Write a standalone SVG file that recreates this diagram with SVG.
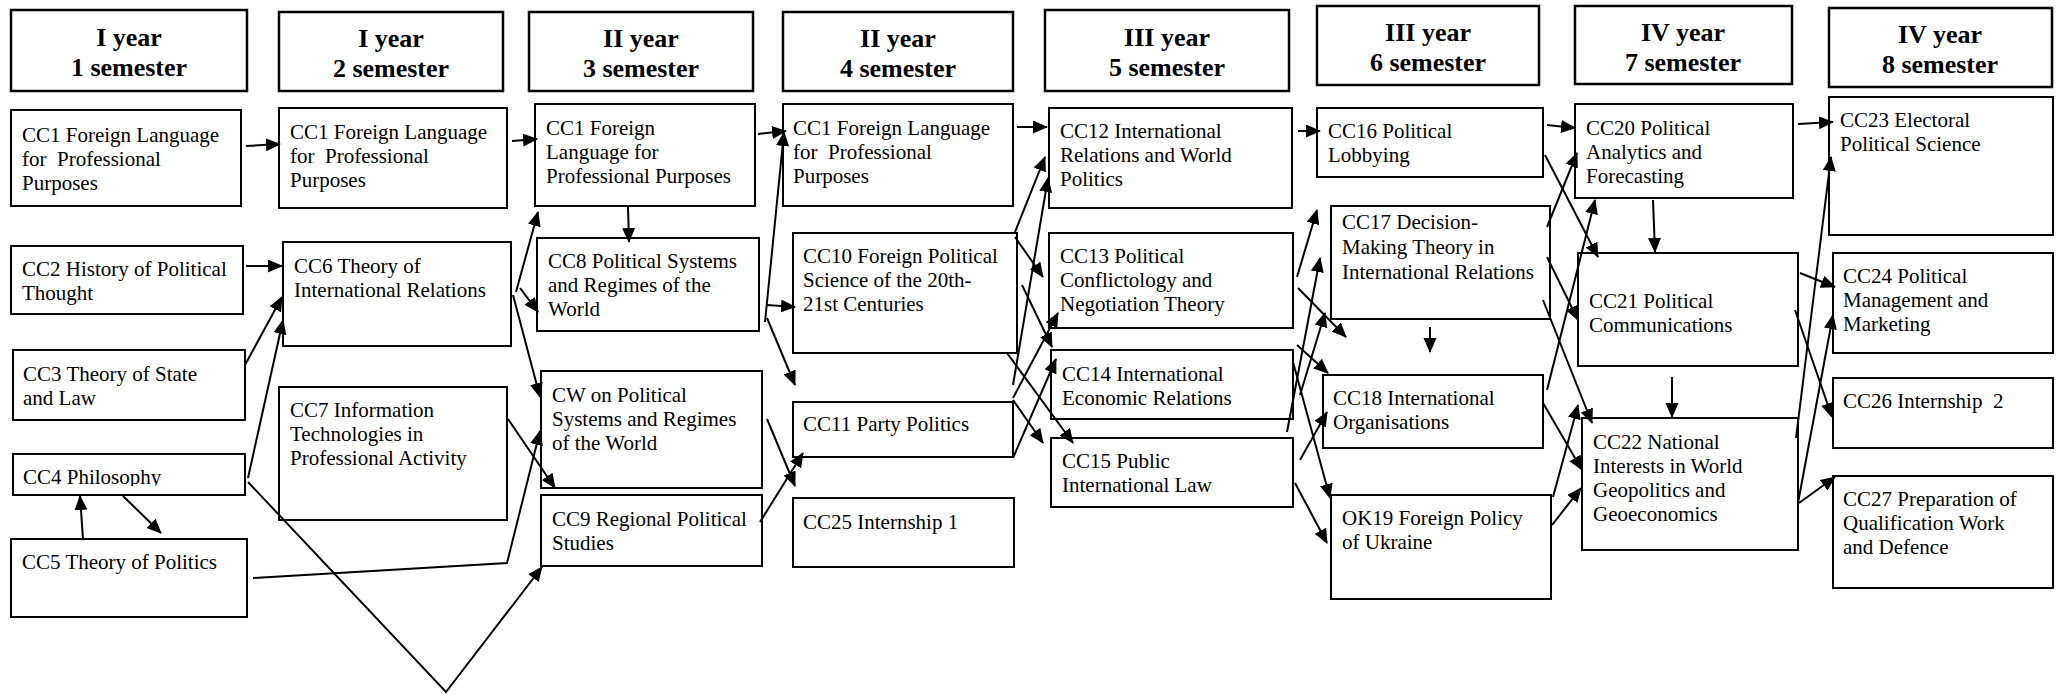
<svg xmlns="http://www.w3.org/2000/svg" width="2058" height="694" viewBox="0 0 2058 694">
<defs>
<style>
.hd rect{fill:#fff;stroke:#000;stroke-width:2.5}
.hd text{font-family:"Liberation Serif","Times New Roman",serif;font-weight:bold;font-size:26px;text-anchor:middle;fill:#000}
.nd rect{fill:#fff;stroke:#000;stroke-width:2}
.nd text{font-family:"Liberation Serif","Times New Roman",serif;font-size:21px;fill:#000}
#connectors line,#connectors polyline{stroke:#000;stroke-width:2;fill:none;marker-end:url(#ah)}
</style>
<marker id="ah" markerUnits="userSpaceOnUse" markerWidth="16" markerHeight="14" refX="14" refY="6.5" orient="auto">
<path d="M0,0 L15,6.5 L0,13 z" fill="#000"/>
</marker>
<clipPath id="cc4clip"><rect x="12" y="454" width="233" height="32"/></clipPath>
</defs>
<rect width="2058" height="694" fill="#fff"/>

<g id="headers">
<g id="h1" class="hd"><rect x="11" y="10" width="236" height="81"/><text x="129" y="46">I year</text><text x="129" y="76">1 semester</text></g>
<g id="h2" class="hd"><rect x="279" y="12" width="224" height="79"/><text x="391" y="47">I year</text><text x="391" y="77">2 semester</text></g>
<g id="h3" class="hd"><rect x="529" y="12" width="224" height="79"/><text x="641" y="47">II year</text><text x="641" y="77">3 semester</text></g>
<g id="h4" class="hd"><rect x="783" y="12" width="230" height="79"/><text x="898" y="47">II year</text><text x="898" y="77">4 semester</text></g>
<g id="h5" class="hd"><rect x="1045" y="10" width="244" height="81"/><text x="1167" y="46">III year</text><text x="1167" y="76">5 semester</text></g>
<g id="h6" class="hd"><rect x="1317" y="6" width="222" height="79"/><text x="1428" y="41">III year</text><text x="1428" y="71">6 semester</text></g>
<g id="h7" class="hd"><rect x="1575" y="6" width="217" height="78"/><text x="1683" y="41">IV year</text><text x="1683" y="71">7 semester</text></g>
<g id="h8" class="hd"><rect x="1829" y="8" width="223" height="79"/><text x="1940" y="43">IV year</text><text x="1940" y="73">8 semester</text></g>
</g>

<g id="nodes">
<g id="cc1-s1" class="nd"><rect x="11" y="110" width="230" height="96"/><text x="22" y="142">CC1 Foreign Language</text><text x="22" y="166" xml:space="preserve">for  Professional</text><text x="22" y="190">Purposes</text></g>
<g id="cc2" class="nd"><rect x="11" y="246" width="232" height="68"/><text x="22" y="276">CC2 History of Political</text><text x="22" y="300">Thought</text></g>
<g id="cc3" class="nd"><rect x="13" y="350" width="232" height="70"/><text x="23" y="381">CC3 Theory of State</text><text x="23" y="405">and Law</text></g>
<g id="cc4" class="nd"><rect x="13" y="454" width="232" height="41"/><text x="23" y="484" clip-path="url(#cc4clip)">CC4 Philosophy</text></g>
<g id="cc5" class="nd"><rect x="11" y="539" width="236" height="78"/><text x="22" y="569">CC5 Theory of Politics</text></g>

<g id="cc1-s2" class="nd"><rect x="279" y="108" width="228" height="100"/><text x="290" y="139">CC1 Foreign Language</text><text x="290" y="163" xml:space="preserve">for  Professional</text><text x="290" y="187">Purposes</text></g>
<g id="cc6" class="nd"><rect x="283" y="242" width="228" height="104"/><text x="294" y="273">CC6 Theory of</text><text x="294" y="297">International Relations</text></g>
<g id="cc7" class="nd"><rect x="279" y="387" width="228" height="133"/><text x="290" y="417">CC7 Information</text><text x="290" y="441">Technologies in</text><text x="290" y="465">Professional Activity</text></g>

<g id="cc1-s3" class="nd"><rect x="535" y="104" width="220" height="102"/><text x="546" y="135">CC1 Foreign</text><text x="546" y="159">Language for</text><text x="546" y="183">Professional Purposes</text></g>
<g id="cc8" class="nd"><rect x="537" y="238" width="222" height="93"/><text x="548" y="268">CC8 Political Systems</text><text x="548" y="292">and Regimes of the</text><text x="548" y="316">World</text></g>
<g id="cw" class="nd"><rect x="541" y="371" width="221" height="117"/><text x="552" y="402">CW on Political</text><text x="552" y="426">Systems and Regimes</text><text x="552" y="450">of the World</text></g>
<g id="cc9" class="nd"><rect x="541" y="495" width="221" height="71"/><text x="552" y="526">CC9 Regional Political</text><text x="552" y="550">Studies</text></g>

<g id="cc1-s4" class="nd"><rect x="783" y="104" width="230" height="102"/><text x="793" y="135">CC1 Foreign Language</text><text x="793" y="159" xml:space="preserve">for  Professional</text><text x="793" y="183">Purposes</text></g>
<g id="cc10" class="nd"><rect x="793" y="233" width="224" height="120"/><text x="803" y="263">CC10 Foreign Political</text><text x="803" y="287">Science of the 20th-</text><text x="803" y="311">21st Centuries</text></g>
<g id="cc11" class="nd"><rect x="793" y="402" width="220" height="55"/><text x="803" y="431">CC11 Party Politics</text></g>
<g id="cc25" class="nd"><rect x="793" y="498" width="221" height="69"/><text x="803" y="529">CC25 Internship 1</text></g>

<g id="cc12" class="nd"><rect x="1049" y="108" width="243" height="100"/><text x="1060" y="138">CC12 International</text><text x="1060" y="162">Relations and World</text><text x="1060" y="186">Politics</text></g>
<g id="cc13" class="nd"><rect x="1049" y="233" width="244" height="95"/><text x="1060" y="263">CC13 Political</text><text x="1060" y="287">Conflictology and</text><text x="1060" y="311">Negotiation Theory</text></g>
<g id="cc14" class="nd"><rect x="1051" y="350" width="242" height="69"/><text x="1062" y="381">CC14 International</text><text x="1062" y="405">Economic Relations</text></g>
<g id="cc15" class="nd"><rect x="1051" y="438" width="242" height="69"/><text x="1062" y="468">CC15 Public</text><text x="1062" y="492">International Law</text></g>

<g id="cc16" class="nd"><rect x="1317" y="108" width="226" height="69"/><text x="1328" y="138">CC16 Political</text><text x="1328" y="162">Lobbying</text></g>
<g id="cc17" class="nd"><rect x="1331" y="206" width="219" height="113"/><text x="1342" y="229">CC17 Decision-</text><text x="1342" y="254">Making Theory in</text><text x="1342" y="279">International Relations</text></g>
<g id="cc18" class="nd"><rect x="1323" y="375" width="220" height="73"/><text x="1333" y="405">CC18 International</text><text x="1333" y="429">Organisations</text></g>
<g id="ok19" class="nd"><rect x="1331" y="495" width="220" height="104"/><text x="1342" y="525">OK19 Foreign Policy</text><text x="1342" y="549">of Ukraine</text></g>

<g id="cc20" class="nd"><rect x="1575" y="104" width="218" height="94"/><text x="1586" y="135">CC20 Political</text><text x="1586" y="159">Analytics and</text><text x="1586" y="183">Forecasting</text></g>
<g id="cc21" class="nd"><rect x="1578" y="253" width="220" height="113"/><text x="1589" y="308">CC21 Political</text><text x="1589" y="332">Communications</text></g>
<g id="cc22" class="nd"><rect x="1582" y="418" width="216" height="132"/><text x="1593" y="449">CC22 National</text><text x="1593" y="473">Interests in World</text><text x="1593" y="497">Geopolitics and</text><text x="1593" y="521">Geoeconomics</text></g>

<g id="cc23" class="nd"><rect x="1829" y="97" width="224" height="138"/><text x="1840" y="127">CC23 Electoral</text><text x="1840" y="151">Political Science</text></g>
<g id="cc24" class="nd"><rect x="1833" y="253" width="220" height="100"/><text x="1843" y="283">CC24 Political</text><text x="1843" y="307">Management and</text><text x="1843" y="331">Marketing</text></g>
<g id="cc26" class="nd"><rect x="1833" y="378" width="220" height="70"/><text x="1843" y="408" xml:space="preserve">CC26 Internship  2</text></g>
<g id="cc27" class="nd"><rect x="1833" y="476" width="220" height="112"/><text x="1843" y="506">CC27 Preparation of</text><text x="1843" y="530">Qualification Work</text><text x="1843" y="554">and Defence</text></g>
</g>

<g id="connectors">
<line x1="246" y1="146" x2="280" y2="144"/>
<line x1="246" y1="266" x2="282" y2="266"/>
<line x1="245" y1="365" x2="282" y2="297"/>
<line x1="248" y1="478" x2="283" y2="320"/>
<line x1="83" y1="539" x2="80" y2="496"/>
<line x1="123" y1="496" x2="161" y2="533"/>
<polyline points="248,482 446,692 542,567"/>
<polyline points="253,578 507,563 540,431"/>

<line x1="512" y1="141" x2="537" y2="139"/>
<line x1="516" y1="292" x2="538" y2="212"/>
<line x1="520" y1="288" x2="538" y2="312"/>
<line x1="513" y1="295" x2="540" y2="397"/>
<line x1="508" y1="419" x2="555" y2="488"/>

<line x1="628" y1="207" x2="629" y2="242"/>
<line x1="758" y1="134" x2="786" y2="131"/>
<line x1="765" y1="322" x2="784" y2="132"/>
<line x1="767" y1="305" x2="795" y2="307"/>
<line x1="767" y1="318" x2="795" y2="385"/>
<line x1="767" y1="419" x2="795" y2="486"/>
<line x1="760" y1="522" x2="803" y2="453"/>

<line x1="1017" y1="127" x2="1047" y2="127"/>
<line x1="1015" y1="232" x2="1045" y2="157"/>
<line x1="1015" y1="237" x2="1043" y2="277"/>
<line x1="1022" y1="285" x2="1052" y2="347"/>
<line x1="1007" y1="353" x2="1073" y2="443"/>
<line x1="1013" y1="385" x2="1048" y2="178"/>
<line x1="1013" y1="398" x2="1058" y2="313"/>
<line x1="1013" y1="458" x2="1056" y2="359"/>
<line x1="1013" y1="400" x2="1043" y2="443"/>

<line x1="1298" y1="131" x2="1320" y2="131"/>
<line x1="1297" y1="277" x2="1317" y2="210"/>
<line x1="1298" y1="288" x2="1346" y2="337"/>
<line x1="1287" y1="432" x2="1320" y2="258"/>
<line x1="1300" y1="395" x2="1325" y2="313"/>
<line x1="1297" y1="345" x2="1328" y2="373"/>
<line x1="1293" y1="362" x2="1330" y2="498"/>
<line x1="1300" y1="460" x2="1327" y2="412"/>
<line x1="1295" y1="483" x2="1327" y2="543"/>
<line x1="1430" y1="327" x2="1430" y2="352"/>

<line x1="1547" y1="125" x2="1575" y2="128"/>
<line x1="1545" y1="155" x2="1598" y2="257"/>
<line x1="1547" y1="227" x2="1577" y2="153"/>
<line x1="1547" y1="257" x2="1578" y2="320"/>
<line x1="1543" y1="300" x2="1592" y2="423"/>
<line x1="1547" y1="390" x2="1595" y2="200"/>
<line x1="1543" y1="403" x2="1582" y2="470"/>
<line x1="1553" y1="497" x2="1578" y2="405"/>
<line x1="1552" y1="525" x2="1581" y2="488"/>
<line x1="1653" y1="200" x2="1655" y2="252"/>
<line x1="1672" y1="377" x2="1672" y2="417"/>

<line x1="1798" y1="124" x2="1833" y2="122"/>
<line x1="1800" y1="273" x2="1835" y2="287"/>
<line x1="1796" y1="438" x2="1831" y2="157"/>
<line x1="1798" y1="503" x2="1833" y2="315"/>
<line x1="1795" y1="310" x2="1832" y2="417"/>
<line x1="1799" y1="503" x2="1835" y2="477"/>
</g>
</svg>
